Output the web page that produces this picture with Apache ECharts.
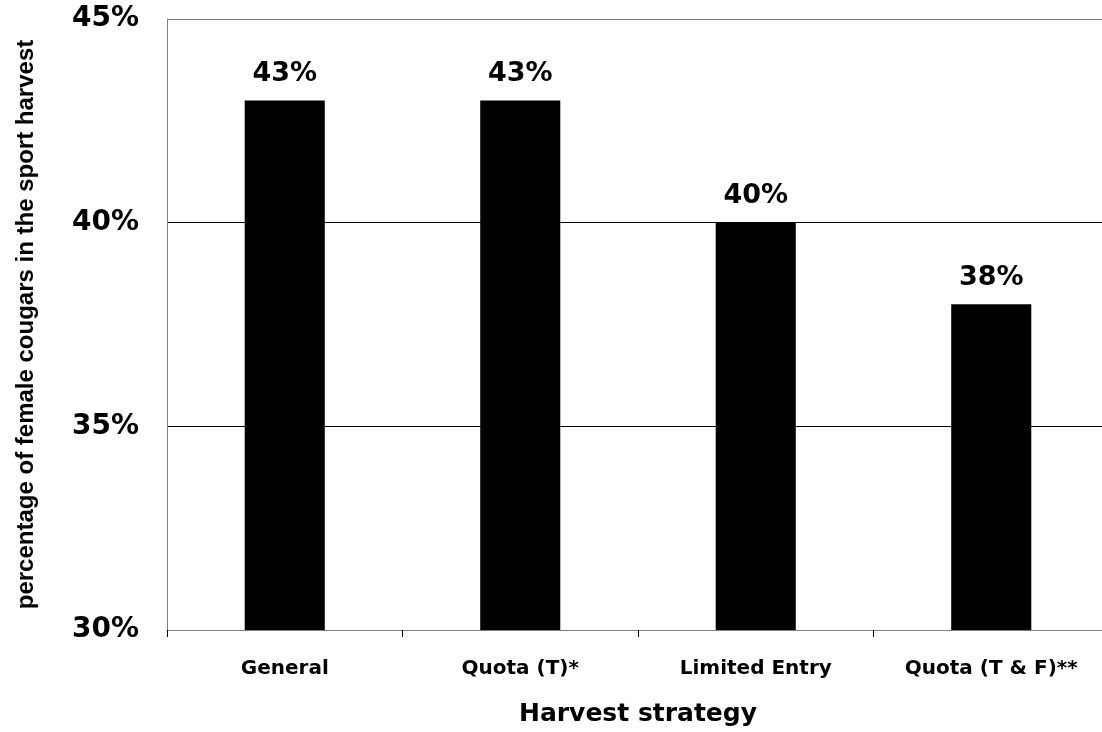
<html>
<head>
<meta charset="utf-8">
<script src="https://cdn.jsdelivr.net/npm/echarts@6/dist/echarts.min.js"></script>
<style>
  html, body { margin: 0; padding: 0; background: #fff; }
  #main { width: 1102px; height: 732px; }
</style>
</head>
<body>
<div id="main"></div>
<script>
var categories = ['General', 'Quota (T)*', 'Limited Entry', 'Quota (T & F)**'];
var femaleShare = [43, 43, 40, 38];
var yTicks = [30, 35, 40, 45];

var chart = echarts.init(document.getElementById('main'));

var option = {
    animation: false,
    backgroundColor: '#fff',
    grid: {
        left: 167,
        right: -7,
        top: 19,
        bottom: 102,
        containLabel: false,
        outerBoundsMode: 'none'
    },
    xAxis: {
        type: 'category',
        data: categories,
        name: 'Harvest strategy',
        nameLocation: 'middle',
        nameGap: 72,
        nameTextStyle: {
            fontFamily: 'DejaVu Sans',
            fontWeight: 'bold',
            fontSize: 25,
            color: '#000'
        },
        axisLine: { lineStyle: { color: '#808080', width: 1 } },
        axisTick: { show: true, length: 7, lineStyle: { color: '#000' } },
        axisLabel: {
            margin: 29,
            fontFamily: 'DejaVu Sans',
            fontWeight: 'bold',
            fontSize: 20,
            color: '#000'
        }
    },
    yAxis: {
        type: 'value',
        min: yTicks[0],
        max: yTicks[yTicks.length - 1],
        interval: 5,
        name: 'percentage of female cougars in the sport harvest',
        nameLocation: 'middle',
        nameGap: 129,
        nameTextStyle: {
            fontFamily: 'Liberation Sans',
            fontWeight: 'bold',
            fontSize: 24,
            color: '#000'
        },
        axisLine: { show: true, lineStyle: { color: '#808080', width: 1 } },
        axisTick: { show: false },
        axisLabel: {
            margin: 28,
            padding: [6, 0, 0, 0],
            fontFamily: 'DejaVu Sans',
            fontWeight: 'bold',
            fontSize: 28,
            color: '#000',
            formatter: '{value}%'
        },
        splitLine: {
            show: true,
            lineStyle: { color: ['#808080', '#000', '#000', '#808080'], width: 1 }
        }
    },
    series: [{
        type: 'bar',
        data: femaleShare,
        barWidth: '34%',
        itemStyle: { color: '#000' },
        label: {
            show: true,
            position: 'top',
            distance: 13,
            formatter: '{c}%',
            fontFamily: 'DejaVu Sans',
            fontWeight: 'bold',
            fontSize: 27,
            color: '#000'
        }
    }]
};

chart.setOption(option);
</script>
</body>
</html>
